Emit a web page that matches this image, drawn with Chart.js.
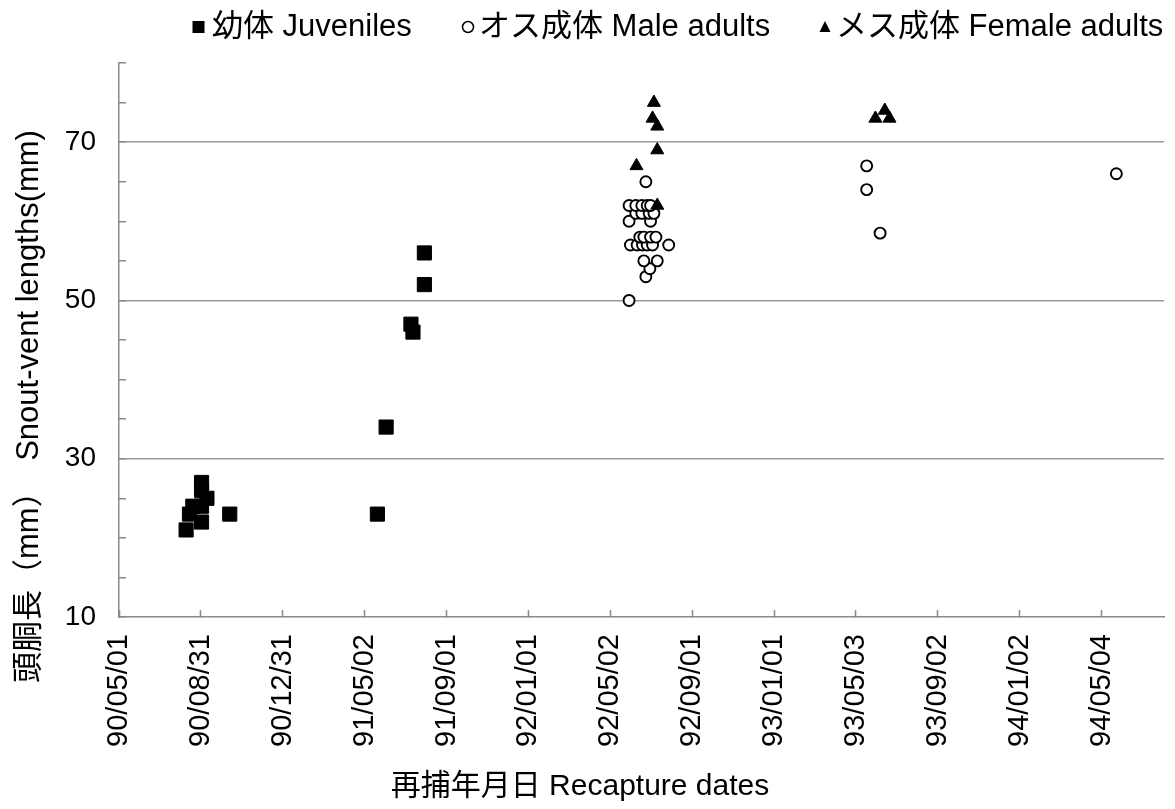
<!DOCTYPE html>
<html><head><meta charset="utf-8">
<script src="https://cdn.jsdelivr.net/npm/chart.js@4.4.0/dist/chart.umd.min.js"></script>
<style>html,body{margin:0;padding:0;background:#fff;}#wrap{width:1175px;height:809px;}</style>
</head><body><div id="wrap"><canvas id="c" width="1175" height="809"></canvas></div>
<script>
// ---- data (recapture date yy/mm/dd, snout-vent length mm) ----
const juvDates = ['90/08/09','90/08/14','90/08/19','91/05/21','90/09/01','90/09/01','90/09/01','90/09/01','90/09/09','90/10/13','91/06/03','91/07/10','91/07/13','91/07/30','91/07/30'];
const juvSVL   = [21,23,24,23,27,26,24,22,25,23,34,47,46,56,52];

const maleDates = ['92/05/30','92/06/24','92/06/30','92/06/21','92/07/11',
  '92/06/01','92/06/11','92/06/19','92/06/26','92/07/04','92/07/28',
  '92/06/15','92/06/21','92/07/01','92/07/09',
  '92/05/30','92/07/01',
  '92/06/09','92/06/18','92/06/29','92/07/06',
  '92/05/30','92/06/09','92/06/18','92/06/26','92/07/01',
  '92/06/24','93/05/19','93/05/19','93/06/08','94/05/26'];
const maleSVL = [50,53,54,55,55,
  57,57,57,57,57,57,
  58,58,58,58,
  60,60,
  61,61,61,61,
  62,62,62,62,62,
  65,67,64,58.5,66];

const femaleDates = ['92/07/06','92/07/04','92/07/11','92/07/11','92/06/10','92/07/11','93/06/01','93/06/15','93/06/22'];
const femaleSVL   = [75,73,72,69,67,62,73,74,73];

const xTickLabels = ['90/05/01','90/08/31','90/12/31','91/05/02','91/09/01','92/01/01','92/05/02','92/09/01','93/01/01','93/05/03','93/09/02','94/01/02','94/05/04'];
const yTickLabels = [10,30,50,70];
const yGridValues = [30,50,70];

const seriesNames = ['幼体 Juveniles','オス成体 Male adults','メス成体 Female adults'];
const xTitle = '再捕年月日 Recapture dates';
const yTitle = '頭胴長（mm）　Snout-vent lengths(mm)';

// ---- helpers ----
const FONT = '"Liberation Sans", "Noto Sans CJK JP", sans-serif';
const ORIGIN = Date.UTC(1990,4,1);
function toDay(s){const p=s.split('/').map(Number);return Math.round((Date.UTC(1900+p[0],p[1]-1,p[2])-ORIGIN)/86400000);}
function pts(d,v){return d.map((s,i)=>({x:toDay(s),y:v[i]}));}
const xTickDays = xTickLabels.map(toDay);
const AX = '#8a8a8a';

const overlay = {
  id:'overlay',
  afterDraw(chart){
    const ctx = chart.ctx;
    ctx.save();
    ctx.fillStyle='#000'; ctx.strokeStyle='#000';
    ctx.textBaseline='middle'; ctx.textAlign='left';
    // legend
    ctx.font = '31px '+FONT;
    const ly = 27;
    ctx.fillRect(192.5, ly-6, 12, 12);
    ctx.fillText(seriesNames[0], 212, ly);
    ctx.beginPath(); ctx.lineWidth=1.5; ctx.arc(468, ly, 5.5, 0, Math.PI*2); ctx.stroke();
    ctx.fillText(seriesNames[1], 479, ly);
    ctx.beginPath(); ctx.moveTo(825, ly-6); ctx.lineTo(830.5, ly+5); ctx.lineTo(819.5, ly+5); ctx.closePath(); ctx.fill();
    ctx.fillText(seriesNames[2], 836, ly);
    // x title
    ctx.font = '30px '+FONT;
    ctx.textAlign='center';
    ctx.fillText(xTitle, 580, 787);
    // y title
    ctx.font = '31px '+FONT;
    ctx.translate(29.5, 683); ctx.rotate(-Math.PI/2);
    ctx.textAlign='left';
    ctx.fillText(yTitle, 0, 0);
    ctx.restore();
  }
};

new Chart(document.getElementById('c'), {
  type:'scatter',
  data:{datasets:[
    {label:seriesNames[0], data:pts(juvDates,juvSVL), pointStyle:'rect', pointRadius:10, pointHoverRadius:10,
     backgroundColor:'#000', borderColor:'#000', borderWidth:1, order:2},
    {label:seriesNames[1], data:pts(maleDates,maleSVL), pointStyle:'circle', pointRadius:5.5, pointHoverRadius:5.5,
     backgroundColor:'#fff', borderColor:'#000', borderWidth:1.9, order:1},
    {label:seriesNames[2], data:pts(femaleDates,femaleSVL), pointStyle:'triangle', pointRadius:7.5, pointHoverRadius:7.5,
     backgroundColor:'#000', borderColor:'#000', borderWidth:1, order:0}
  ]},
  options:{
    responsive:false, animation:false, devicePixelRatio:1,
    layout:{padding:{top:63,right:9,bottom:0,left:0}},
    plugins:{legend:{display:false}, tooltip:{enabled:false}},
    scales:{
      x:{type:'linear', min:0, max:1557,
        afterBuildTicks:(s)=>{s.ticks = xTickDays.map(v=>({value:v}));},
        afterFit:(s)=>{s.height=192; s.paddingLeft=0; s.paddingRight=0;},
        ticks:{autoSkip:false, maxRotation:90, minRotation:90, color:'#000', padding:24,
          font:{size:29, family:FONT}, callback:(v,i)=>xTickLabels[i]},
        grid:{drawOnChartArea:false, drawTicks:true, tickLength:-7, tickColor:AX, tickWidth:1.5},
        border:{color:AX, width:1.5}
      },
      y:{type:'linear', min:10, max:80,
        afterFit:(s)=>{s.width=119; s.paddingTop=0; s.paddingBottom=0;},
        ticks:{stepSize:5, color:'#000', padding:30, font:{size:28, family:FONT},
          callback:(v)=>yTickLabels.includes(v)?String(v):''},
        grid:{color:(c)=>yGridValues.includes(c.tick && c.tick.value)?'#9a9a9a':'rgba(0,0,0,0)', lineWidth:1.5,
          drawTicks:true, tickLength:-7, tickColor:AX, tickWidth:1.5},
        border:{color:AX, width:1.5}
      }
    }
  },
  plugins:[overlay]
});
</script></body></html>
